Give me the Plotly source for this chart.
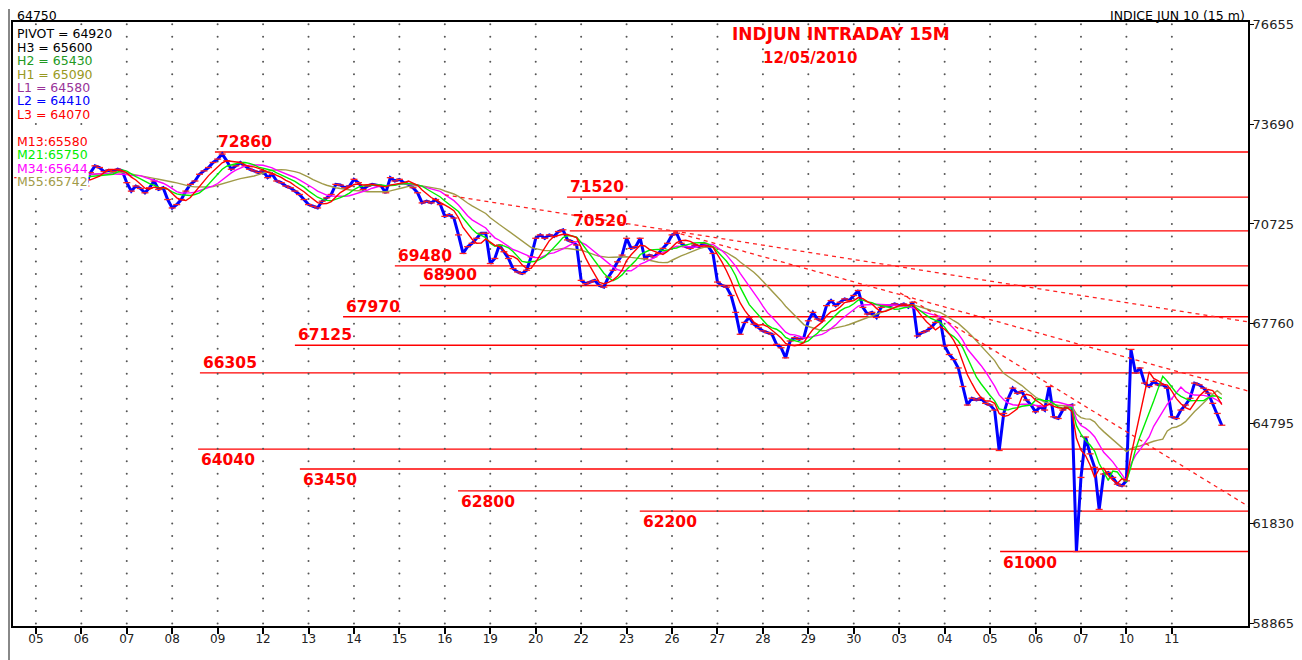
import numpy as np
import pandas as pd
import plotly.graph_objects as go

# ---------------- data ----------------
day_labels = ["05", "06", "07", "08", "09", "12", "13", "14", "15", "16", "19", "20", "22",
              "23", "26", "27", "28", "29", "30", "03", "04", "05", "06", "07", "10", "11"]

# price path (15M bars, sampled ~10 per session), tail of the previous session first
pre_session = [72100, 72150, 72200, 72250]

week_apr05 = [
    [72200, 72300, 72350, 72250, 72400, 72350, 72300, 72250, 72200, 72100],
    [71780, 71850, 72250, 72450, 72400, 72280, 72320, 72280, 72350, 72300],
    [71950, 71700, 71850, 71780, 71650, 71800, 72000, 71750, 71800, 71450],
    [71200, 71300, 71450, 71700, 71900, 72000, 72200, 72300, 72400, 72550],
    [72650, 72800, 72600, 72350, 72450, 72550, 72450, 72350, 72300, 72250],
]
week_apr12 = [
    [72300, 72100, 72200, 72000, 71950, 71850, 71800, 71700, 71600, 71450],
    [71300, 71250, 71200, 71400, 71500, 71600, 71900, 71880, 71800, 71850],
    [72050, 71950, 71750, 71850, 71900, 71880, 71850, 71650, 72100, 72000],
    [72050, 71950, 71900, 71800, 71650, 71350, 71400, 71350, 71450, 71300],
    [70950, 71000, 70900, 70400, 69850, 70050, 70150, 70300, 70450, 70450],
]
week_apr19 = [
    [69550, 69700, 70100, 69900, 69700, 69400, 69300, 69250, 69350, 69750],
    [70300, 70400, 70300, 70400, 70350, 70500, 70550, 70250, 70200, 70100],
    [69050, 68950, 69000, 69050, 68900, 68850, 69150, 69350, 69600, 69800],
    [70300, 70000, 70050, 70300, 69700, 69800, 69750, 69850, 70000, 70150],
]
week_apr26 = [
    [70400, 70450, 70150, 70050, 70000, 70100, 70050, 70150, 70050, 69850],
    [69000, 68900, 68850, 68600, 68100, 67450, 67800, 67950, 67750, 67650],
    [67550, 67500, 67450, 67150, 67050, 66750, 67250, 67350, 67300, 67350],
    [67850, 68100, 67900, 67850, 68300, 68450, 68300, 68400, 68500, 68450],
    [68600, 68750, 68250, 68050, 68100, 67950, 68250, 68300, 68300, 68350],
]
week_may03 = [
    [68300, 68350, 68250, 68400, 67400, 67500, 67550, 67650, 67800, 67900],
    [67100, 66850, 66700, 66450, 65900, 65350, 65550, 65500, 65550, 65400],
    [65350, 65200, 64000, 65100, 65550, 65850, 65700, 65750, 65500, 65350],
    [65150, 65300, 65200, 65900, 65000, 64950, 65200, 65300, 65350, 61000],
    [63200, 64400, 63900, 63500, 62250, 63300, 63350, 63200, 63000, 62950],
]
week_may10 = [
    [63100, 67000, 66300, 66450, 66000, 65900, 66050, 65950, 65950, 65850],
    [65000, 64950, 65200, 65350, 65550, 66000, 65950, 65850, 65700, 65400, 65100, 64750],
]

# indicator header
pivot_names = ["PIVOT", "H3", "H2", "H1", "L1", "L2", "L3"]
pivot_values = [64920, 65600, 65430, 65090, 64580, 64410, 64070]
ma_names = ["M13", "M21", "M34", "M55"]
ma_values = [65580, 65750, 65644, 65742]

# support / resistance levels and the session where each starts
levels = [72860, 71520, 70520, 69480, 68900, 67970, 67125, 66305,
          64040, 63450, 62800, 62200, 61000]
level_start = [3.94, 11.69, 11.75, 7.90, 8.45, 6.76, 5.70, 3.61,
               3.57, 5.81, 9.29, 13.29, 21.22]

# dashed trend lines (session position, price)
trend_start = [(9.00, 71590), (14.02, 70493), (19.02, 68679)]
trend_end = [(26.68, 67817), (26.68, 65765), (26.68, 62345)]

y_ticks = [58865, 61830, 64795, 67760, 70725, 73690, 76655]

# ---------------- build series ----------------
sessions = week_apr05 + week_apr12 + week_apr19 + week_apr26 + week_may03 + week_may10
xs, ys = [], []
for j, v in enumerate(pre_session):
    xs.append(-0.1 * (len(pre_session) - j))
    ys.append(v)
for i, sess in enumerate(sessions):
    for j, v in enumerate(sess):
        xs.append(i + j / 10)
        ys.append(v)
price = pd.Series(ys, dtype=float)

# moving averages (periods scaled to the ~10 samples per session used here)
ma_windows = [5, 8, 12, 20]
ma_colors = ["#FF0000", "#00EE00", "#FF00FF", "#A09A48"]

# ---------------- figure ----------------
# the page body has an 8px margin, so the figure is laid out in screen pixels minus 8
OFF = 8
W, H = 1294, 652
PL, PR, PT, PB = 13, 1248, 22, 626          # plot box on screen
L, T = PL - OFF, PT - OFF
R, B = W - (PR - OFF), H - (PB - OFF)
PW, PH = PR - PL, PB - PT


def px_x(x):
    return (x - PL) / PW


def px_y(y):
    return (PB - y) / PH


fig = go.Figure()

# dotted grid
gx, gy = np.meshgrid(np.arange(len(day_labels)), 58865 + 370.625 * np.arange(49))
fig.add_trace(go.Scatter(x=gx.ravel(), y=gy.ravel(), mode="markers",
                         marker=dict(size=2, color="#555555"), hoverinfo="skip"))

# price
fig.add_trace(go.Scatter(x=xs, y=price, mode="lines+markers",
                         line=dict(color="#0000FF", width=3),
                         marker=dict(symbol="line-ew", size=5,
                                     line=dict(color="#FF2020", width=1.3))))

# moving averages (slowest first)
for w, c in list(zip(ma_windows, ma_colors))[::-1]:
    ma = price.rolling(w, min_periods=1).mean()
    fig.add_trace(go.Scatter(x=xs, y=ma, mode="lines", line=dict(color=c, width=1.4)))

# dashed trend lines
for (x0, y0), (x1, y1) in zip(trend_start, trend_end):
    fig.add_trace(go.Scatter(x=[x0, x1], y=[y0, y1], mode="lines",
                             line=dict(color="#FF2020", width=1.3, dash="4px,4px")))

XMIN, XMAX = -0.504, 26.676
YMIN, YMAX = 58790, 76720

shapes = []
annotations = []
for lv, st in zip(levels, level_start):
    shapes.append(dict(type="line", xref="x", yref="y", x0=st, x1=XMAX, y0=lv, y1=lv,
                       line=dict(color="#FF0000", width=1.4), layer="below"))
    above = lv >= 66000
    annotations.append(dict(x=st, y=lv, xref="x", yref="y", xanchor="left",
                            yanchor="bottom" if above else "top",
                            yshift=-1 if above else 0, xshift=1,
                            text="<b>%d</b>" % lv, showarrow=False,
                            font=dict(family="DejaVu Sans", size=15.5, color="#FF0000")))

# outer grey frame line on the left
shapes.append(dict(type="line", xref="paper", yref="paper", x0=px_x(9), x1=px_x(9),
                   y0=px_y(9), y1=px_y(670), line=dict(color="#888888", width=2)))

# header legend
pcolors = ["#000000", "#000000", "#229922", "#999922", "#993399", "#0000FF", "#FF0000"]
row_y = 34.0
for n, v, c in zip(pivot_names, pivot_values, pcolors):
    annotations.append(dict(x=px_x(16), y=px_y(row_y), xref="paper", yref="paper",
                            xanchor="left", yanchor="middle", showarrow=False,
                            text="%s = %d" % (n, v), bgcolor="white", borderpad=0,
                            font=dict(family="DejaVu Sans", size=12.5, color=c)))
    row_y += 13.4
row_y += 13.4
for n, v, c in zip(ma_names, ma_values, ma_colors):
    annotations.append(dict(x=px_x(16), y=px_y(row_y), xref="paper", yref="paper",
                            xanchor="left", yanchor="middle", showarrow=False,
                            text="%s:%d" % (n, v), bgcolor="white", borderpad=0,
                            font=dict(family="DejaVu Sans", size=12.5, color=c)))
    row_y += 13.4

# titles
annotations += [
    dict(x=px_x(841), y=px_y(34), xref="paper", yref="paper", showarrow=False,
         xanchor="center", yanchor="middle",
         text="<b>INDJUN INTRADAY 15M</b>",
         font=dict(family="DejaVu Sans", size=17, color="#FF0000")),
    dict(x=px_x(810), y=px_y(58), xref="paper", yref="paper", showarrow=False,
         xanchor="center", yanchor="middle",
         text="<b>12/05/2010</b>",
         font=dict(family="DejaVu Sans", size=15, color="#FF0000")),
    dict(x=px_x(15), y=px_y(15), xref="paper", yref="paper", showarrow=False,
         xanchor="left", yanchor="middle", text=str(ys[-1]),
         font=dict(family="DejaVu Sans", size=12.5, color="#000000")),
    dict(x=px_x(1247), y=px_y(15), xref="paper", yref="paper", showarrow=False,
         xanchor="right", yanchor="middle", text="INDICE JUN 10 (15 m)",
         font=dict(family="DejaVu Sans", size=12.5, color="#000000")),
]

fig.update_layout(
    width=W, height=H, margin=dict(l=L, r=R, t=T, b=B, autoexpand=False),
    paper_bgcolor="white", plot_bgcolor="white", showlegend=False,
    shapes=shapes, annotations=annotations,
    xaxis=dict(range=[XMIN, XMAX], tickvals=list(range(len(day_labels))), ticktext=day_labels,
               ticks="outside", ticklen=6, tickwidth=2, tickcolor="#000000",
               ticklabelstandoff=-5,
               showgrid=False, zeroline=False, showline=True, mirror=True,
               linecolor="#000000", linewidth=2, automargin=False,
               tickfont=dict(family="DejaVu Sans", size=12, color="#222222")),
    yaxis=dict(range=[YMIN, YMAX], side="right", tickvals=y_ticks,
               ticktext=[str(v) for v in y_ticks],
               ticks="outside", ticklen=4, tickwidth=1, tickcolor="#000000",
               ticklabelstandoff=-4,
               showgrid=False, zeroline=False, showline=True, mirror=True,
               linecolor="#000000", linewidth=2, automargin=False,
               tickfont=dict(family="DejaVu Sans", size=13, color="#222222")),
)

fig.write_html("out.html")
